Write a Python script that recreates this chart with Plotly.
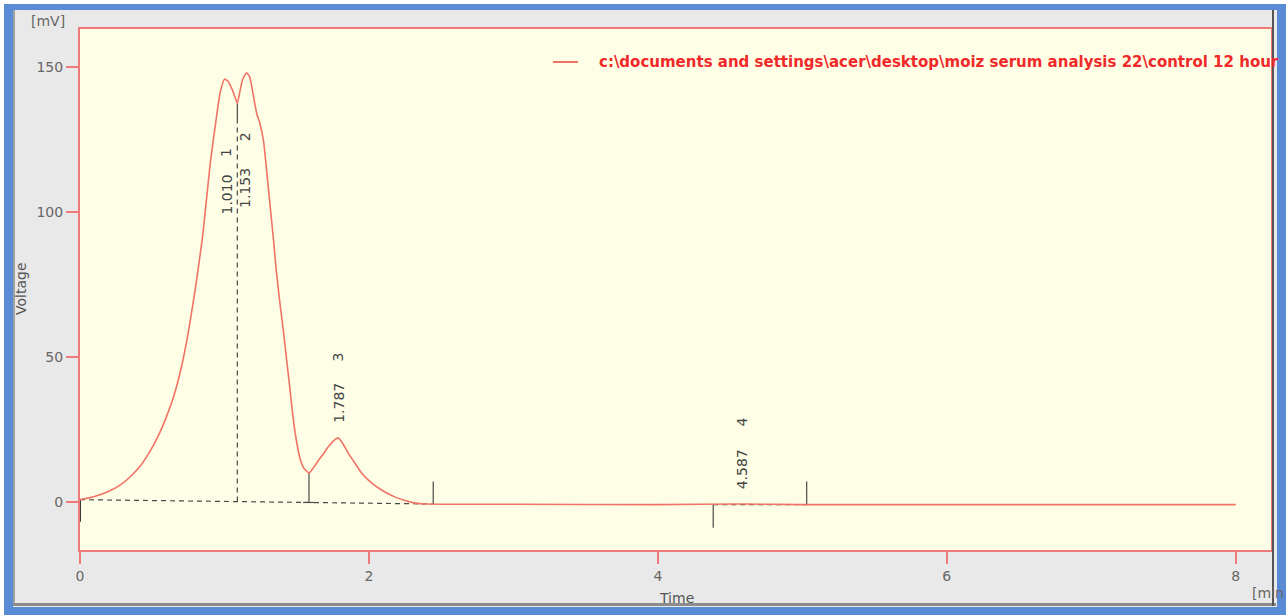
import plotly.graph_objects as go

# ---------------- data ----------------
curve_t = [0.00, 0.10, 0.20, 0.28, 0.35, 0.42, 0.48, 0.54, 0.60, 0.65, 0.70, 0.75,
           0.80, 0.85, 0.90, 0.94, 0.97, 1.00, 1.025, 1.05, 1.07, 1.089, 1.105, 1.125,
           1.153, 1.175, 1.20, 1.225, 1.245, 1.27, 1.30, 1.32, 1.34, 1.36, 1.385, 1.41,
           1.43, 1.453, 1.475, 1.50, 1.525, 1.55, 1.585, 1.62, 1.65, 1.68, 1.72, 1.755,
           1.787, 1.82, 1.86, 1.90, 1.94, 1.98, 2.03, 2.08, 2.13, 2.19, 2.25, 2.31,
           2.40, 3.00, 4.00, 4.587, 5.00, 6.00, 7.00, 8.00]
curve_mv = [0.7, 1.8, 3.6, 5.8, 8.7, 12.5, 17.0, 22.5, 29.5, 36.5, 46.0, 58.5,
            74.0, 92.0, 116.0, 131.0, 141.0, 145.7, 145.0, 142.5, 140.0, 137.4, 141.0, 145.5,
            147.9, 146.5, 140.0, 133.5, 130.5, 124.5, 110.0, 100.0, 90.0, 79.0, 68.0, 58.0,
            49.0, 39.0, 29.0, 20.5, 14.5, 11.5, 9.9, 12.0, 14.2, 16.2, 19.0, 21.0,
            22.0, 20.0, 16.5, 13.5, 10.5, 8.2, 6.0, 4.3, 2.8, 1.4, 0.4, -0.4,
            -0.8, -0.9, -1.0, -0.8, -1.0, -1.0, -1.0, -1.0]

peak_rt = [1.010, 1.153, 1.787, 4.587]
peak_no = ["1", "2", "3", "4"]

# integration events: start, valley 1/2, valley 2/3, end, start 4, end 4
event_t = [0.0, 1.089, 1.585, 2.445, 4.383, 5.03]
event_mv = [0.7, 137.4, 9.9, -0.8, -1.0, -1.0]

x_ticks = [0, 2, 4, 6, 8]
y_ticks = [0, 50, 100, 150]

legend_name = r"c:\documents and settings\acer\desktop\moiz serum analysis 22\control 12 hour"

# ---------------- figure ----------------
W, H = 1286, 615
ML, MR, MT, MB = 80, 15, 29, 65
PW, PH = W - ML - MR, H - MT - MB


def px(xp):
    return (xp - ML) / PW


def py(yp):
    return (H - MB - yp) / PH


fig = go.Figure()
MARK = "#4a4a4a"


def seg(xs, ys, dash=None, color=MARK, width=1.2):
    fig.add_trace(go.Scatter(x=xs, y=ys, mode="lines", showlegend=False, hoverinfo="skip",
                             line=dict(color=color, width=width, dash=dash)))


# baseline of peaks 1-3 (dashed)
b0t, b1t = event_t[0], event_t[3]
b0y, b1y = event_mv[0], event_mv[3]


def base_at(t):
    return b0y + (b1y - b0y) * (t - b0t) / (b1t - b0t)


seg([b0t, b1t], [b0y, b1y], dash="5px,4px")
# drop line between peak 1 and 2
vt = event_t[1]
seg([vt, vt], [base_at(vt), event_mv[1] - 7], dash="5px,4px")
seg([vt, vt], [event_mv[1] - 7, event_mv[1]])
# valley between peak 2 and 3
vt2 = event_t[2]
seg([vt2, vt2], [base_at(vt2), event_mv[2]])
seg([vt2 - 0.04, vt2 + 0.04], [base_at(vt2), base_at(vt2)])
# end mark of group
seg([event_t[3], event_t[3]], [event_mv[3], event_mv[3] + 7.8])
# peak 4 marks
seg([event_t[4], event_t[4]], [event_mv[4], event_mv[4] - 8])
seg([event_t[5], event_t[5]], [event_mv[5], event_mv[5] + 8])
seg([event_t[4], event_t[5]], [event_mv[4], event_mv[5]], dash="5px,4px")
# start mark
seg([event_t[0], event_t[0]], [event_mv[0], event_mv[0] - 7.6], color="#3a3a3a", width=2)

# chromatogram
fig.add_trace(go.Scatter(x=curve_t, y=curve_mv, mode="lines", name=legend_name,
                         showlegend=False, hoverinfo="skip",
                         line=dict(color="#f07466", width=1.6, shape="spline", smoothing=0.5)))

# peak labels (rotated)
lab_font = dict(family="DejaVu Sans", size=14, color="#444444")
rt_pos = [(1.015, 105.8), (1.142, 108.2), (1.788, 34.2), (4.579, 11.0)]
no_pos = [(1.015, 120.5), (1.142, 126.0), (1.788, 49.8), (4.579, 27.5)]
for rt, no, (rx, ry), (nx, ny) in zip(peak_rt, peak_no, rt_pos, no_pos):
    fig.add_annotation(x=rx, y=ry, text=f"{rt:.3f}", textangle=-90, showarrow=False, font=lab_font,
                       xanchor="center", yanchor="middle")
    fig.add_annotation(x=nx, y=ny, text=no, textangle=-90, showarrow=False, font=lab_font,
                       xanchor="center", yanchor="middle")

grey_font = dict(family="DejaVu Sans", size=14, color="#666666")


def paper_text(x, y, text, font, angle=0, xanchor="center"):
    fig.add_annotation(xref="paper", yref="paper", x=px(x), y=py(y), text=text, textangle=angle,
                       showarrow=False, font=font, xanchor=xanchor, yanchor="middle")


paper_text(48, 21, "[mV]", grey_font)
paper_text(21, 289, "Voltage", dict(family="DejaVu Sans", size=14, color="#555555"), angle=-90)
paper_text(676, 598, "Time", dict(family="DejaVu Sans", size=14, color="#555555"))
paper_text(1250, 593, "[min", grey_font, xanchor="left")

# legend (line sample + red bold text)
fig.add_shape(type="line", xref="paper", yref="paper", x0=px(553), x1=px(578), y0=py(62), y1=py(62),
              line=dict(color="#f07466", width=2))
paper_text(597, 62, "<b>" + legend_name + "</b>",
           dict(family="DejaVu Sans", size=15, color="#f02a2a"), xanchor="left")

# window frame decorations
BLUE = "#5a8cd6"


def rect(x0, y0, x1, y1, color):
    fig.add_shape(type="rect", xref="paper", yref="paper", x0=px(x0), x1=px(x1), y0=py(y0), y1=py(y1),
                  fillcolor=color, line=dict(width=0), layer="above")


rect(0, 0, W, 4, "#ffffff")
rect(0, 0, 4, H, "#ffffff")
rect(4, 4, 13, H, BLUE)
rect(4, 4, W, 10, BLUE)
rect(1277, 4, W, H, BLUE)
rect(4, 607, W, H, BLUE)
rect(13, 10, 15, 606, "#a0a0a0")
rect(13, 603, 1276, 606, "#8c8c8c")
rect(1272, 10, 1274, 606, "#555555")

axis_common = dict(ticks="outside", ticklen=12, tickwidth=2, tickcolor="#f07a7a",
                   showline=True, mirror=True, linecolor="#f07a7a", linewidth=2,
                   showgrid=False, zeroline=False,
                   tickfont=dict(family="DejaVu Sans", size=14, color="#666666"))

fig.update_layout(
    width=W, height=H,
    margin=dict(l=ML, r=MR, t=MT, b=MB),
    paper_bgcolor="#e9e9e9", plot_bgcolor="#fefee6",
    showlegend=False,
    hovermode=False,
    xaxis=dict(range=[0, 8.244], tickvals=x_ticks, **axis_common),
    yaxis=dict(range=[-16.66, 163.0], tickvals=y_ticks, **axis_common),
)

fig.write_html("out.html", config={"displayModeBar": False},
               post_script="document.body.style.margin='0px';")
